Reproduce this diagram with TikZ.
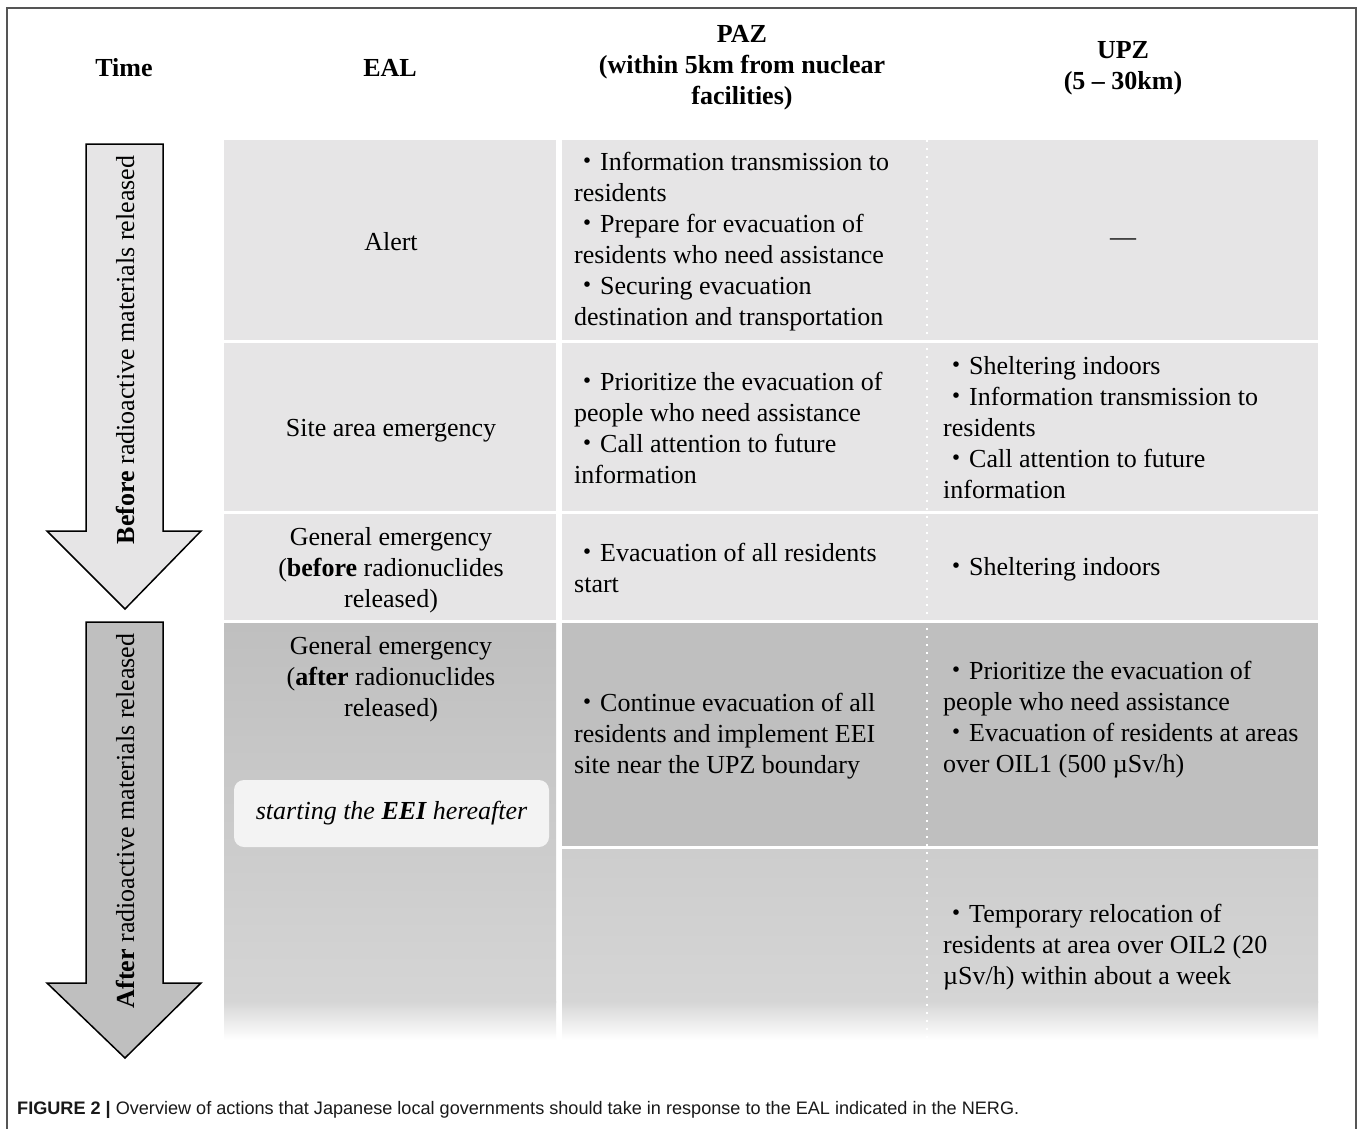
\documentclass[tikz,border=0pt]{standalone}
\usepackage{fontspec}
\setmainfont{Liberation Serif}
\setsansfont{Liberation Sans}
\newfontfamily\cjkf{Noto Sans CJK JP}
\newcommand\mybul{{\cjkf ・}}
\definecolor{lightcell}{HTML}{E6E5E6}
\definecolor{darkcell}{HTML}{BFBFBF}
\definecolor{midcell}{HTML}{CDCDCD}
\definecolor{lowcell}{HTML}{D5D5D5}
\definecolor{eeibox}{HTML}{F3F3F3}
\definecolor{framec}{HTML}{555555}
\begin{document}
\begin{tikzpicture}[x=1pt,y=-1pt,
  txt/.style={font=\fontsize{26}{31}\selectfont, inner sep=0pt, text=black},
  ctr/.style={txt, align=center},
  lft/.style={txt, align=left, anchor=west},
  hdr/.style={txt, align=center, font=\fontsize{26}{31}\selectfont\bfseries},
  arrowshape/.style={draw=black, line width=1.5pt, line join=miter},
  sep/.style={white, line width=1.3pt, dash pattern=on 1.5pt off 6.5pt}]
\useasboundingbox[fill=white] (0,0) rectangle (1358,1128);
% frame
\draw[framec, line width=2pt] (7,1135) -- (7,8) -- (1356,8) -- (1356,1135);
% cells
\fill[lightcell] (224,140) rectangle (556,340);
\fill[lightcell] (224,343) rectangle (556,511);
\fill[lightcell] (224,514) rectangle (556,620);
\fill[lightcell] (562,140) rectangle (1318,340);
\fill[lightcell] (562,343) rectangle (1318,511);
\fill[lightcell] (562,514) rectangle (1318,620);
\shade[top color=darkcell, bottom color=lowcell] (224,623) rectangle (556,1002);
\shade[top color=lowcell, bottom color=white] (224,1001) rectangle (556,1040);
\fill[darkcell] (562,623) rectangle (1318,846);
\shade[top color=midcell, bottom color=lowcell] (562,849) rectangle (1318,1002);
\shade[top color=lowcell, bottom color=white] (562,1001) rectangle (1318,1040);
\draw[sep] (927,140) -- (927,1040);
% EEI box
\node[fill=eeibox, rounded corners=10pt, minimum width=315pt, minimum height=67pt,
      inner sep=0pt, font=\fontsize{26}{31}\selectfont\itshape] (eei) at (391.5,813.5)
      {\raisebox{-1.5pt}{starting the \textbf{EEI} hereafter}};
% arrows
\path[arrowshape, fill=lightcell] (86,144) -- (163,144) -- (163,531) -- (201,531)
   -- (125,609) -- (47,531) -- (86,531) -- cycle;
\path[arrowshape, fill=darkcell] (86,622) -- (163,622) -- (163,983) -- (201,983)
   -- (125,1058) -- (47,983) -- (86,983) -- cycle;
\node[txt, rotate=90] (before) at (125,350) {\textbf{Before} radioactive materials released};
\node[txt, rotate=90] (after) at (125,821) {\textbf{After} radioactive materials released};
% headers
\node[hdr] (htime) at (124,68) {Time};
\node[hdr] (heal) at (390,68) {EAL};
\node[hdr] (hpaz) at (742,68) {PAZ\\(within 5km from nuclear\\facilities)};
\node[hdr] (hupz) at (1123,68) {UPZ\\(5 – 30km)};
% row 1
\node[ctr] (alert) at (391,242) {Alert};
\node[lft] (paz1) at (574,242) {\mybul Information transmission to\\residents\\\mybul Prepare for evacuation of\\residents who need assistance\\\mybul Securing evacuation\\destination and transportation};
\node[ctr] (upz1) at (1123,242) {—};
% row 2
\node[ctr] (site) at (391,431) {Site area emergency};
\node[lft] (paz2) at (574,428) {\mybul Prioritize the evacuation of\\people who need assistance\\\mybul Call attention to future\\information};
\node[lft] (upz2) at (943,428) {\mybul Sheltering indoors\\\mybul Information transmission to\\residents\\\mybul Call attention to future\\information};
% row 3
\node[ctr] (gen1) at (391,570) {General emergency\\(\textbf{before} radionuclides\\released)};
\node[lft] (paz3) at (574,568) {\mybul Evacuation of all residents\\start};
\node[lft] (upz3) at (943,569) {\mybul Sheltering indoors};
% row 4
\node[ctr] (gen2) at (391,679) {General emergency\\(\textbf{after} radionuclides\\released)};
\node[lft] (paz4) at (574,736) {\mybul Continue evacuation of all\\residents and implement EEI\\site near the UPZ boundary};
\node[lft] (upz4) at (943,720) {\mybul Prioritize the evacuation of\\people who need assistance\\\mybul Evacuation of residents at areas\\over OIL1 (500 µSv/h)};
% row 5
\node[lft] (upz5) at (943,947) {\mybul Temporary relocation of\\residents at area over OIL2 (20\\µSv/h) within about a week};
% caption
\node[anchor=west, inner sep=0pt, font=\sffamily\fontsize{18.1}{21}\selectfont, text=black!90] (cap) at (17,1110)
  {\textbf{FIGURE 2 |} Overview of actions that Japanese local governments should take in response to the EAL indicated in the NERG.};
\end{tikzpicture}
\end{document}
